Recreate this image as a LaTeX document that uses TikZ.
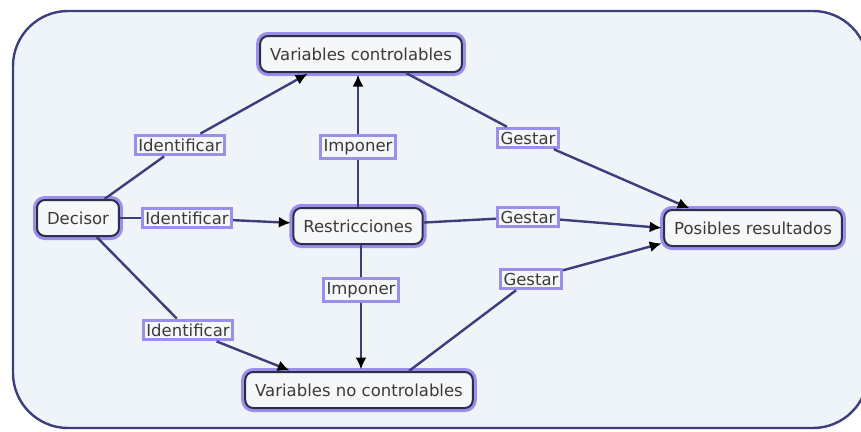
\documentclass[tikz,border=0pt]{standalone}
\usepackage{fontspec}
\setmainfont{DejaVu Sans}
\usetikzlibrary{arrows.meta}
\definecolor{panelbg}{HTML}{EEF4F7}
\definecolor{panelline}{HTML}{3E3E7E}
\definecolor{linkline}{HTML}{3D3D7C}
\definecolor{glow}{HTML}{9A90EC}
\definecolor{boxfill}{HTML}{F6F7F9}
\definecolor{boxline}{HTML}{2E2E4A}
\definecolor{txt}{HTML}{3A3A3A}
\tikzset{
  concept/.style={rectangle, rounded corners=8pt, draw=boxline, line width=2pt,
    fill=boxfill, text=txt, font=\fontsize{16.5}{19}\selectfont,
    minimum height=36pt, inner xsep=10pt,
    preaction={draw=glow, line width=8pt}},
  linkbox/.style={rectangle, draw=glow, line width=3pt, fill=boxfill,
    text=txt, font=\fontsize{16.5}{19}\selectfont, inner xsep=3pt, inner ysep=3.5pt},
  conn/.style={draw=linkline, line width=2.4pt},
  arr/.style={conn, -{Latex[length=12pt,width=11pt,color=black]}, shorten >=1.5pt}
}
\begin{document}
\begin{tikzpicture}[x=1pt,y=-1pt]
  \useasboundingbox (0,0) rectangle (861,431);
  \clip (0,0) rectangle (861,431);
  % background panel
  \draw[fill=panelbg, draw=panelline, line width=2.4pt, rounded corners=55pt]
    (13,11) rectangle (868,428);

  % concepts
  \node[concept] (dec) at (78,218) {Decisor};
  \node[concept] (vc)  at (361,54) {Variables controlables};
  \node[concept] (res) at (358,226) {Restricciones};
  \node[concept] (pr)  at (753,228) {Posibles resultados};
  \node[concept] (vnc) at (359,390) {Variables no controlables};

  % linking phrases
  \node[linkbox] (id1) at (180,145) {Identificar};
  \node[linkbox] (id2) at (187,218) {Identificar};
  \node[linkbox] (id3) at (188,330) {Identificar};
  \node[linkbox] (im1) at (358,147) {Imponer};
  \node[linkbox] (im2) at (361,290) {Imponer};
  \node[linkbox] (ge1) at (528,138) {Gestar};
  \node[linkbox] (ge2) at (528,217) {Gestar};
  \node[linkbox] (ge3) at (531,279) {Gestar};

  % connectors
  \draw[conn] (dec) -- (id1);
  \draw[arr]  (id1) -- ([xshift=-52pt]vc.south);
  \draw[conn] (dec) -- (id2);
  \draw[arr]  (id2) -- (res);
  \draw[conn] (dec) -- (id3);
  \draw[arr]  (id3) -- ([xshift=-68pt]vnc.north);

  \draw[conn] (im1 |- res.north) -- (im1);
  \draw[arr]  (im1) -- (im1 |- vc.south);
  \draw[conn] (im2 |- res.south) -- (im2);
  \draw[arr]  (im2) -- (im2 |- vnc.north);

  \draw[conn] ([xshift=45pt]vc.south) -- (ge1);
  \draw[arr]  (ge1) -- ([xshift=-62pt]pr.north);
  \draw[conn] (res) -- (ge2);
  \draw[arr]  (ge2) -- (pr.west);
  \draw[conn] ([xshift=50pt]vnc.north) -- (ge3);
  \draw[arr]  (ge3) -- ([yshift=-15pt]pr.west);
\end{tikzpicture}
\end{document}
